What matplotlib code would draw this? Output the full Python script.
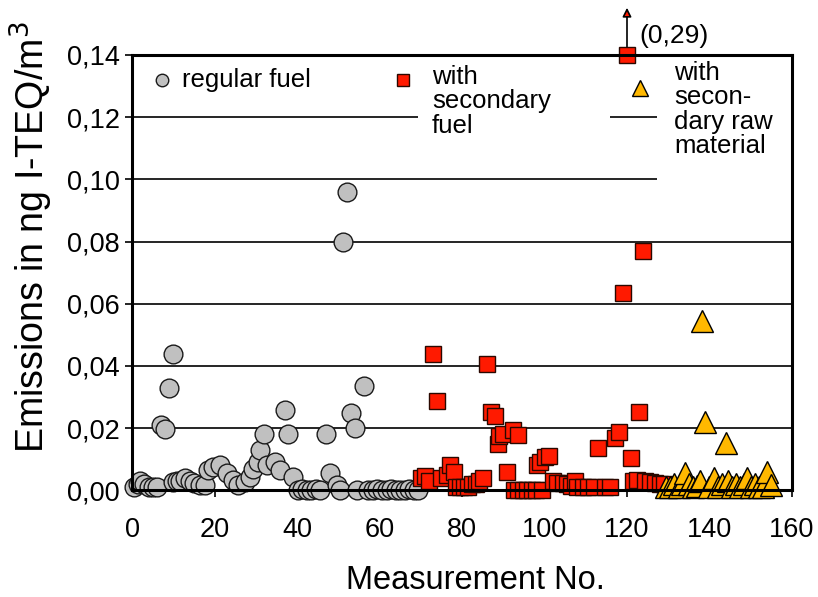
import numpy as np
import matplotlib.pyplot as plt
import matplotlib.patches as mpatches
from matplotlib.ticker import FuncFormatter

plt.rcParams['font.family'] = ['Liberation Sans', 'DejaVu Sans']

# regular fuel (grey circles)
reg_x = [0.5, 1.5, 2, 3, 4, 5, 6,
         7, 8, 9, 10,
         10, 11, 11.6, 12.8, 14, 15, 16.5, 17.7,
         18.4, 19.6, 21.3, 23, 24.5, 25.7, 27.4, 28.6, 29.3, 30.5, 31, 32, 32.7,
         34.7, 35.9, 37.1, 37.8, 39, 40.2,
         41.2, 42.3, 43.4, 44.5, 45.6, 47, 48, 49.6, 50.5, 51.2, 52.1, 53, 54,
         54.5, 56.2, 57.3, 58.4, 59.5, 60.6, 61.7, 62.8, 63.9, 65, 66.1, 67.2,
         68.3, 69.4]
reg_y = [0.001, 0.002, 0.003, 0.002, 0.001, 0.001, 0.001,
         0.021, 0.0197, 0.033, 0.044,
         0.0027, 0.003, 0.003, 0.004, 0.003, 0.0025, 0.0018, 0.0018,
         0.0065, 0.0076, 0.008, 0.0055, 0.0033, 0.0018, 0.0027, 0.0043, 0.007,
         0.009, 0.013, 0.018, 0.008,
         0.009, 0.0065, 0.026, 0.018, 0.0043, 0.000,
         0.0005, 0.000, 0.000, 0.0005, 0.000, 0.018, 0.0055, 0.0018, 0.000,
         0.080, 0.096, 0.025, 0.020,
         0.000, 0.0335, 0.000, 0.000, 0.0005, 0.000, 0.000, 0.0005, 0.000,
         0.000, 0.000, 0.0005, 0.000, 0.000]

# with secondary fuel (red squares)
sec_x = [70, 71, 72, 73, 74, 75, 76.4, 77, 78, 78.5, 79.5, 80.5, 81.5, 82.5,
         83.5, 84, 85, 86.1, 87, 88, 88.7, 89, 90, 91, 92.4, 93.5,
         92.5, 93.6, 94.7, 95.8, 96.9, 98, 99.5, 98.2, 99, 100, 101,
         102, 103, 104.5, 105.5, 106.5, 107.4, 108, 109.3, 110.5, 112, 113,
         114.7, 116, 117, 118, 119, 120, 121, 121.5, 122.5, 123, 124, 124.4,
         125.6, 126.8, 128, 129]
sec_y = [0.004, 0.0045, 0.003, 0.044, 0.0286, 0.004, 0.005, 0.008, 0.006,
         0.001, 0.001, 0.001, 0.001, 0.002, 0.002, 0.003, 0.004, 0.0405,
         0.0251, 0.0239, 0.0149, 0.0175, 0.018, 0.006, 0.0194, 0.0178,
         0.000, 0.000, 0.000, 0.000, 0.000, 0.000, 0.000, 0.008, 0.009,
         0.0107, 0.011,
         0.003, 0.0025, 0.0025, 0.002, 0.0015, 0.003, 0.001, 0.001, 0.001,
         0.001, 0.0135, 0.001, 0.001, 0.017, 0.0188, 0.0636, 0.29, 0.0104,
         0.003, 0.0034, 0.0251, 0.0769, 0.003, 0.0028, 0.0025, 0.002, 0.002]

# with secondary raw material (orange triangles)
raw_x = [129.5, 130.5, 131.5, 132.5, 133.3, 134, 135, 136, 137, 137.7, 138.2,
         139, 140, 141, 142, 143, 144, 144.5, 145.5, 146.5, 147.5, 148.3, 149,
         150, 151, 152, 153, 154, 155]
raw_y = [0.001, 0.001, 0.002, 0.001, 0.002, 0.0055, 0.002, 0.001, 0.0015,
         0.003, 0.0546, 0.022, 0.001, 0.004, 0.001, 0.002, 0.0152, 0.003,
         0.001, 0.002, 0.001, 0.002, 0.004, 0.001, 0.002, 0.001, 0.001,
         0.006, 0.0018]

ymax = 0.14

fig = plt.figure(figsize=(8.18, 5.97), dpi=100)
ax = fig.add_axes([0.1614, 0.1786, 0.8068, 0.7293])

# horizontal grid lines, partly hidden by the legend labels
for v in [0.02, 0.04, 0.06, 0.08, 0.10, 0.12]:
    ax.axhline(v, color='black', lw=1.2, zorder=1)
ax.add_patch(mpatches.Rectangle((0.433, 0.76), 0.291, 0.24, transform=ax.transAxes,
                                facecolor='white', edgecolor='none', zorder=2))
ax.add_patch(mpatches.Rectangle((0.795, 0.68), 0.205, 0.32, transform=ax.transAxes,
                                facecolor='white', edgecolor='none', zorder=2))

ax.plot(reg_x, reg_y, 'o', ms=13.5, mfc='#c0c0c0', mec='#1a1a1a', mew=1.0,
        zorder=3, clip_on=False)
sec_plot_y = np.minimum(sec_y, ymax)
ax.plot(sec_x, sec_plot_y, 's', ms=12, mfc='#ff1a00', mec='#2a0800', mew=1.0,
        zorder=4, clip_on=False)
ax.plot(raw_x, raw_y, '^', ms=16, mfc='#ffb800', mec='black', mew=1.0,
        zorder=5, clip_on=False)

# off-scale value
i_top = int(np.argmax(sec_y))
ax.annotate('', xy=(sec_x[i_top], ymax), xytext=(0, 34), textcoords='offset points',
            xycoords='data',
            arrowprops=dict(arrowstyle='<|-', lw=1.2, shrinkA=0, shrinkB=6,
                            mutation_scale=13, fc='#ff1a00', ec='black'),
            annotation_clip=False, zorder=6)
ax.annotate('(' + f'{sec_y[i_top]:.2f}'.replace('.', ',') + ')',
            xy=(sec_x[i_top], ymax), xytext=(9, 5), textcoords='offset points',
            fontsize=19, ha='left', va='bottom', annotation_clip=False)

# legend drawn as text
ax.plot([0.045], [0.9426], 'o', ms=9, mfc='#c0c0c0', mec='#1a1a1a', mew=1.0,
        transform=ax.transAxes, zorder=6)
ax.text(0.076, 0.9426, 'regular fuel', transform=ax.transAxes, fontsize=18.5,
        va='center', ha='left', zorder=6)
ax.plot([0.41], [0.9426], 's', ms=9, mfc='#ff1a00', mec='#2a0800', mew=1.0,
        transform=ax.transAxes, zorder=6)
ax.text(0.4545, 0.977, 'with\nsecondary\nfuel', transform=ax.transAxes, fontsize=18.5,
        va='top', ha='left', linespacing=1.02, zorder=6)
ax.plot([0.77], [0.924], '^', ms=11, mfc='#ffb800', mec='black', mew=1.0,
        transform=ax.transAxes, zorder=6)
ax.text(0.821, 0.986, 'with\nsecon-\ndary raw\nmaterial', transform=ax.transAxes,
        fontsize=18.5, va='top', ha='left', linespacing=1.02, zorder=6)

ax.set_xlim(0, 160)
ax.set_ylim(0, ymax)
ax.set_xticks(np.arange(0, 161, 20))
ax.set_yticks(np.arange(0, 0.141, 0.02))
ax.yaxis.set_major_formatter(FuncFormatter(lambda v, p: f'{v:.2f}'.replace('.', ',')))
ax.tick_params(axis='both', labelsize=19.5, direction='out', length=5, width=1.2)
ax.tick_params(axis='x', pad=14)
ax.tick_params(axis='y', pad=4)
for s in ax.spines.values():
    s.set_linewidth(2.2)
    s.set_zorder(7)

ax.set_xlabel('Measurement No.', fontsize=23.5)
ax.xaxis.set_label_coords(0.52, -0.206)
ax.xaxis.label.set_va('center')
ax.set_ylabel('Emissions in ng I-TEQ/m$^3$', fontsize=27)
ax.yaxis.set_label_coords(-0.152, 0.582)
ax.yaxis.label.set_va('center')

fig.savefig('out.png', dpi=100)
